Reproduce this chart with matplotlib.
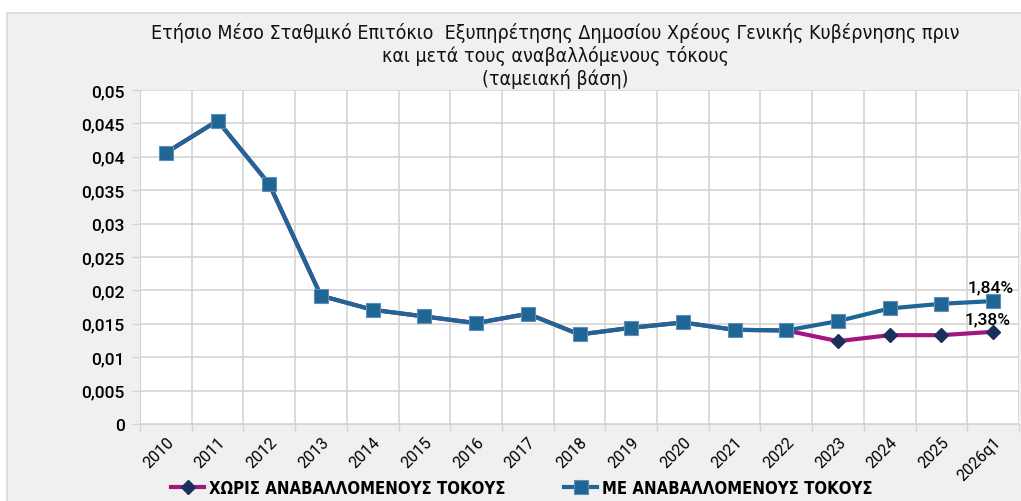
import matplotlib
matplotlib.use("Agg")
import matplotlib.pyplot as plt
from matplotlib.patches import Rectangle
from matplotlib.ticker import FuncFormatter, MultipleLocator, FixedLocator, NullFormatter
from matplotlib import font_manager

categories = ["2010", "2011", "2012", "2013", "2014", "2015", "2016", "2017", "2018",
              "2019", "2020", "2021", "2022", "2023", "2024", "2025", "2026q1"]
without_deferred = [0.0406, 0.0454, 0.0359, 0.0192, 0.0171, 0.0161, 0.0151, 0.0165, 0.0134,
                    0.0144, 0.0152, 0.0141, 0.0140, 0.0124, 0.0133, 0.0133, 0.0138]
with_deferred = [0.0406, 0.0454, 0.0359, 0.0192, 0.0171, 0.0161, 0.0151, 0.0165, 0.0134,
                 0.0144, 0.0152, 0.0141, 0.0140, 0.0154, 0.0173, 0.0180, 0.0184]
series_names = ["ΧΩΡΙΣ ΑΝΑΒΑΛΛΟΜΕΝΟΥΣ ΤΟΚΟΥΣ", "ΜΕ ΑΝΑΒΑΛΛΟΜΕΝΟΥΣ ΤΟΚΟΥΣ"]
end_labels = ["1,38%", "1,84%"]
title = ("Ετήσιο Μέσο Σταθμικό Επιτόκιο  Εξυπηρέτησης Δημοσίου Χρέους Γενικής Κυβέρνησης πριν\n"
         "και μετά τους αναβαλλόμενους τόκους\n(ταμειακή βάση)")

available = {f.name for f in font_manager.fontManager.ttflist}
main_font = "Roboto" if "Roboto" in available else "DejaVu Sans"

BLUE = "#1F6595"
PURPLE = "#A3157F"
NAVY = "#1B2F5C"
GRID = "#D4D4D4"
BG = "#F0F0F0"

fig = plt.figure(figsize=(10.21, 5.02), dpi=100)
fig.patch.set_facecolor("white")
fig.add_artist(Rectangle((7 / 1021, -0.01), 1.0, 1 - 14 / 502 + 0.01, transform=fig.transFigure,
                         facecolor=BG, edgecolor="#D9D9D9", linewidth=1.2, zorder=0))

ax = fig.add_axes([140 / 1021, 1 - 425 / 502, 879 / 1021, (425 - 91) / 502])
ax.set_facecolor("white")
x = list(range(len(categories)))

ax.plot(x, without_deferred, color=PURPLE, linewidth=3, marker="D", markersize=7,
        markerfacecolor=NAVY, markeredgecolor=NAVY, label=series_names[0], zorder=3)
ax.plot(x, with_deferred, color=BLUE, linewidth=3, marker="s", markersize=9.5,
        markerfacecolor=BLUE, markeredgecolor="#5F8FB5", markeredgewidth=0.8,
        label=series_names[1], zorder=4)

ax.set_xlim(-0.5, len(categories) - 0.5)
ax.set_ylim(0, 0.05)
ax.yaxis.set_major_locator(MultipleLocator(0.005))
ax.yaxis.set_major_formatter(FuncFormatter(
    lambda v, p: "0" if abs(v) < 1e-12 else ("%g" % round(v, 4)).replace(".", ",")))
ax.xaxis.set_major_locator(FixedLocator([i - 0.5 for i in range(len(categories) + 1)]))
ax.xaxis.set_major_formatter(NullFormatter())
ax.xaxis.set_minor_locator(FixedLocator(x))
ax.set_xticklabels(categories, minor=True)
ax.tick_params(axis="x", which="minor", length=0, pad=7)
ax.tick_params(axis="x", which="major", length=6, color=GRID, width=1)
ax.tick_params(axis="y", length=6, color=GRID, width=1, pad=5)
for lbl in ax.get_xticklabels(minor=True):
    lbl.set_rotation(45)
    lbl.set_ha("right")
    lbl.set_va("top")
    lbl.set_rotation_mode("anchor")
    lbl.set_fontsize(11.5)
    lbl.set_family(main_font)
    lbl.set_color("black")
for lbl in ax.get_yticklabels():
    lbl.set_fontsize(12.5)
    lbl.set_family(main_font)
    lbl.set_weight("medium")
    lbl.set_color("black")

ax.grid(True, which="major", color=GRID, linewidth=1.2)
ax.set_axisbelow(True)
for s in ax.spines.values():
    s.set_visible(False)
ax.spines["bottom"].set_visible(True)
ax.spines["bottom"].set_color(GRID)
ax.spines["left"].set_visible(True)
ax.spines["left"].set_color(GRID)

last = len(categories) - 1
ax.annotate(end_labels[1], (last, with_deferred[-1]), xytext=(-2, 5), textcoords="offset points",
            ha="center", va="bottom", fontsize=12.5, family=main_font, weight="medium", color="black")
ax.annotate(end_labels[0], (last, without_deferred[-1]), xytext=(-4, 4), textcoords="offset points",
            ha="center", va="bottom", fontsize=12.5, family=main_font, weight="medium", color="black")

fig.text(555 / 1021, 1 - 23 / 502, title, ha="center", va="top", fontsize=14,
         family="DejaVu Sans", stretch="condensed", color="#111111", linespacing=1.18)

leg = fig.legend(loc="center", bbox_to_anchor=(522 / 1021, 1 - 489 / 502), ncol=2, frameon=False,
                 prop={"family": "DejaVu Sans", "stretch": "condensed", "weight": "bold", "size": 12},
                 handlelength=2.0, handletextpad=0.3, columnspacing=3.5, borderaxespad=0)

fig.savefig("out.png", dpi=100)
